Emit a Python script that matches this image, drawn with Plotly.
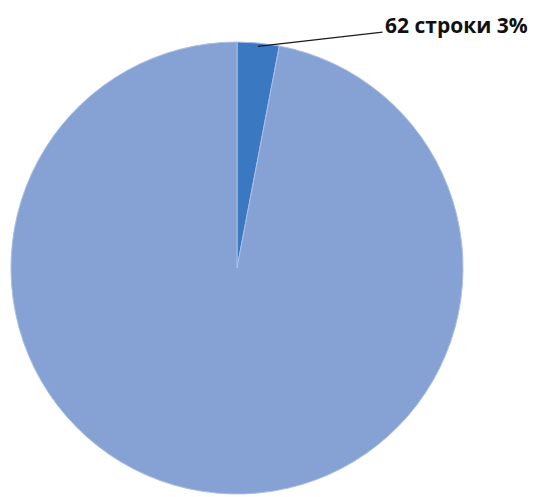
import math
import plotly.graph_objects as go

labels = ["62 строки", "остальные строки"]
values = [62, 2005]
colors = ["#3b78c2", "#86a2d4"]
label_text = "62 строки 3%"

W, H = 541, 497
L, T, S = 3, 34, 452  # plot area: left, top, size (square); page body adds 8px

fig = go.Figure(go.Pie(
    labels=labels,
    values=values,
    marker=dict(colors=colors, line=dict(color="#a9bfe4", width=1)),
    sort=False,
    direction="clockwise",
    rotation=0,
    textinfo="none",
    hoverinfo="label+value+percent",
    showlegend=False,
))

# leader line from the middle of the small slice's arc to the label
total = sum(values)
mid = 360 * values[0] / total / 2
r = 0.5 * 0.985
px = 0.5 + r * math.sin(math.radians(mid))
py = 0.5 + r * math.cos(math.radians(mid))

fig.add_shape(type="line", xref="paper", yref="paper",
              x0=px, y0=py, x1=0.822, y1=1.022,
              line=dict(color="#1a1a1a", width=1.3))
fig.add_annotation(x=0.824, y=1.038, xref="paper", yref="paper",
                   text="<b>" + label_text + "</b>", showarrow=False,
                   xanchor="left", yanchor="middle",
                   font=dict(family="Open Sans", size=21, color="#111111"))

fig.update_layout(
    width=W, height=H,
    margin=dict(l=L, t=T, r=W - L - S, b=H - T - S),
    paper_bgcolor="white", plot_bgcolor="white",
)
fig.write_html("out.html")
